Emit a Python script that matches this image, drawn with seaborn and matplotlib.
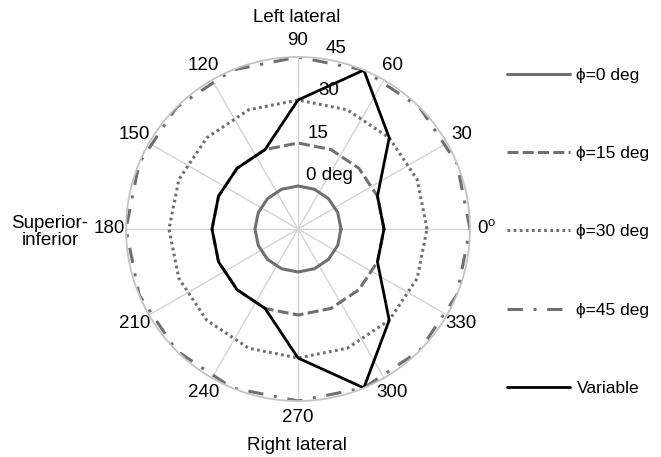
import numpy as np
import pandas as pd
import matplotlib
matplotlib.use("Agg")
import matplotlib.pyplot as plt
import seaborn as sns

# ---- data ----
angles_deg = [0, 22.5, 45, 67.5, 90, 112.5, 135, 157.5,
              180, 202.5, 225, 247.5, 270, 292.5, 315, 337.5]
phi0 = [0, 0, 0, 0, 0, 0, 0, 0, 0, 0, 0, 0, 0, 0, 0, 0]
phi15 = [15, 15, 15, 15, 15, 15, 15, 15, 15, 15, 15, 15, 15, 15, 15, 15]
phi30 = [30, 30, 30, 30, 30, 30, 30, 30, 30, 30, 30, 30, 30, 30, 30, 30]
phi45 = [45, 45, 45, 45, 45, 45, 45, 45, 45, 45, 45, 45, 45, 45, 45, 45]
variable = [15, 15, 30, 45, 30, 15, 15, 15, 15, 15, 15, 15, 30, 45, 30, 15]
series_names = ["\u03d5=0 deg", "\u03d5=15 deg", "\u03d5=30 deg", "\u03d5=45 deg", "Variable"]
tick_deg = [0, 30, 60, 90, 120, 150, 180, 210, 240, 270, 300, 330]
tick_labels = ["0$^\\mathregular{o}$", "30", "60", "90", "120", "150", "180",
               "210", "240", "270", "300", "330"]
ring_values = ["0 deg", "15", "30", "45"]

sns.set_style("white")
plt.rcParams["font.family"] = ["Liberation Sans", "DejaVu Sans"]
plt.rcParams["mathtext.fontset"] = "custom"
plt.rcParams["mathtext.rm"] = "Liberation Sans"
plt.rcParams["text.color"] = "black"
plt.rcParams["xtick.color"] = "black"
plt.rcParams["xtick.labelcolor"] = "black"

fig = plt.figure(figsize=(6.61, 4.57), dpi=100)
ax = fig.add_axes([126 / 661, 56 / 457, 344 / 661, 344 / 457], projection="polar")
ax.set_facecolor("white")
ax.set_theta_zero_location("E")
ax.set_theta_direction(1)

gray = "#707070"
styles = [
    dict(color=gray, lw=2.2, ls="-"),
    dict(color=gray, lw=2.2, ls=(0, (3.6, 1.4))),
    dict(color=gray, lw=2.2, ls=(0, (0.9, 1.1))),
    dict(color=gray, lw=2.2, ls=(0, (5.0, 3.5, 1.0, 3.5))),
    dict(color="black", lw=2.0, ls="-"),
]
all_series = [phi0, phi15, phi30, phi45, variable]

for name, vals, st in zip(series_names, all_series, styles):
    th = list(np.deg2rad(angles_deg)) + [2 * np.pi]
    rv = list(vals) + [vals[0]]
    df = pd.DataFrame({"theta": th, "r": rv})
    sns.lineplot(data=df, x="theta", y="r", ax=ax, sort=False, estimator=None,
                 color=st["color"], linewidth=st["lw"], linestyle=st["ls"],
                 label=name)

ax.set_ylim(-15, 45)
ax.set_yticks([])
ax.set_xticks(np.deg2rad(tick_deg))
ax.set_xticklabels(tick_labels, fontsize=13.5, color="black")
ax.tick_params(axis="x", pad=1.5)
ax.xaxis.grid(True, color="#d4d4d4", lw=1.0)
ax.yaxis.grid(False)
ax.spines["polar"].set_color("#c4c4c4")
ax.spines["polar"].set_linewidth(1.3)
ax.set_xlabel("")
ax.set_ylabel("")

# radial ring labels
ring_pos = [(60.0, 6.7), (78.4, 19.1), (77.3, 34.5), (78.1, 49.5)]
for s, (a, r) in zip(ring_values, ring_pos):
    ax.text(np.deg2rad(a), r, s, ha="center", va="center", fontsize=13.5,
            color="black", clip_on=False)

fig.text(297 / 661, 1 - 18 / 457, "Left lateral", ha="center", va="center",
         fontsize=13.5, color="black")
fig.text(297 / 661, 1 - 445 / 457, "Right lateral", ha="center", va="center",
         fontsize=13.5, color="black")
fig.text(50 / 661, 1 - 232 / 457, "Superior-\ninferior", ha="center", va="center",
         fontsize=13.5, linespacing=1.05, color="black")

leg = ax.legend(loc="upper left", bbox_to_anchor=(507 / 661, 1 - 68 / 457),
                bbox_transform=fig.transFigure, frameon=False, fontsize=12.5,
                borderpad=0, borderaxespad=0, handlelength=3.6,
                handletextpad=0.4, labelspacing=3.63)
for t in leg.get_texts():
    t.set_color("black")

fig.savefig("out.png", dpi=100, facecolor="white")
